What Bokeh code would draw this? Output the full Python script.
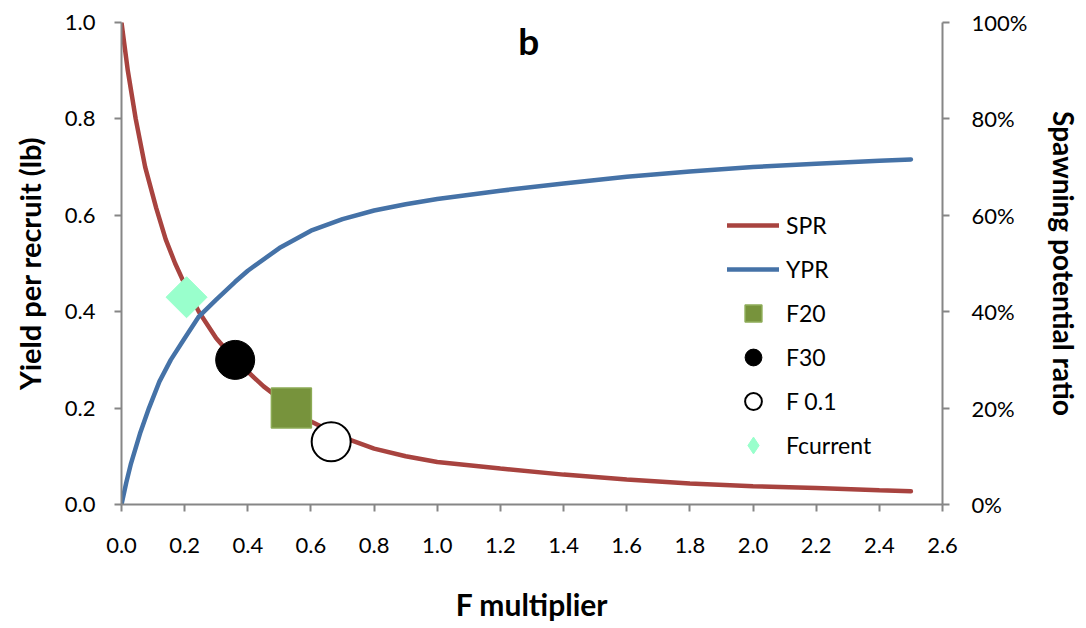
from bokeh.plotting import figure
from bokeh.models import (Range1d, LinearAxis, Legend, LegendItem, Label,
                          NumeralTickFormatter, FixedTicker)
from bokeh.embed import file_html
from bokeh.resources import INLINE
import math

# ---- data ----
f_spr = [0, 0.02, 0.045, 0.075, 0.11, 0.14, 0.17, 0.205, 0.245, 0.30, 0.36,
         0.45, 0.54, 0.60, 0.70, 0.80, 0.90, 1.0, 1.2, 1.4, 1.6, 1.8, 2.0,
         2.2, 2.4, 2.5]
spr = [1.0, 0.90, 0.80, 0.70, 0.615, 0.55, 0.50, 0.45, 0.40, 0.345, 0.30,
       0.245, 0.20, 0.172, 0.140, 0.116, 0.100, 0.088, 0.0745, 0.062, 0.052,
       0.0435, 0.038, 0.034, 0.0296, 0.0276]

f_ypr = [0, 0.015, 0.03, 0.06, 0.087, 0.12, 0.156, 0.20, 0.245, 0.30, 0.36,
         0.40, 0.50, 0.60, 0.70, 0.80, 0.90, 1.0, 1.2, 1.4, 1.6, 1.8, 2.0,
         2.2, 2.4, 2.5]
ypr = [0, 0.045, 0.085, 0.15, 0.20, 0.255, 0.30, 0.345, 0.39, 0.425, 0.462,
       0.485, 0.532, 0.568, 0.592, 0.610, 0.623, 0.634, 0.651, 0.666, 0.680,
       0.691, 0.700, 0.707, 0.713, 0.716]

f20_x, f20_y = [0.538], [0.20]
f30_x, f30_y = [0.36], [0.30]
f01_x, f01_y = [0.664], [0.13]
fcur_x, fcur_y = [0.206], [0.43]

x_ticks = [0, 0.2, 0.4, 0.6, 0.8, 1.0, 1.2, 1.4, 1.6, 1.8, 2.0, 2.2, 2.4, 2.6]
y_ticks = [0, 0.2, 0.4, 0.6, 0.8, 1.0]

RED = "#A8433F"
BLUE = "#4572A7"
GREEN = "#77933C"
AQUA = "#99FFCC"
AXIS = "#868686"
FONT = "Lato"

p = figure(width=1084, height=624, x_range=Range1d(0, 2.6), y_range=Range1d(0, 1),
           output_backend="svg", toolbar_location=None,
           min_border_left=121, min_border_right=142, min_border_top=22,
           min_border_bottom=119)
p.extra_y_ranges = {"spr": Range1d(0, 1)}
p.outline_line_color = None
p.grid.visible = False

r_spr = p.line(f_spr, spr, line_color=RED, line_width=4.5, line_cap="round",
               y_range_name="spr")
r_ypr = p.line(f_ypr, ypr, line_color=BLUE, line_width=4.5, line_cap="round")
r_f20 = p.scatter(f20_x, f20_y, marker="square", size=40, fill_color=GREEN,
                  line_color="#8CAB55", line_width=1.5, y_range_name="spr")
r_f30 = p.scatter(f30_x, f30_y, marker="circle", size=39, fill_color="black",
                  line_color="black", y_range_name="spr")
r_f01 = p.scatter(f01_x, f01_y, marker="circle", size=39, fill_color="white",
                  line_color="black", line_width=2, y_range_name="spr")
# diamond (used as legend swatch), covered by the rotated square below
r_fcur_key = p.scatter(fcur_x, fcur_y, marker="diamond", size=18,
                       fill_color=AQUA, line_color=AQUA, y_range_name="spr")
r_fcur = p.scatter(fcur_x, fcur_y, marker="square", size=29, angle=math.pi / 4,
                   fill_color=AQUA, line_color=AQUA, y_range_name="spr")

def style_axis(ax, fmt, ticks, standoff):
    ax.ticker = FixedTicker(ticks=ticks)
    ax.formatter = NumeralTickFormatter(format=fmt)
    ax.axis_line_color = AXIS
    ax.axis_line_width = 2
    ax.major_tick_line_color = AXIS
    ax.major_tick_line_width = 2
    ax.major_tick_out = 7
    ax.major_tick_in = 0
    ax.minor_tick_line_color = None
    ax.major_label_text_font = FONT
    ax.major_label_text_font_size = "22px"
    ax.major_label_text_color = "black"
    ax.major_label_standoff = standoff
    ax.axis_label_text_font = FONT
    ax.axis_label_text_font_style = "bold"
    ax.axis_label_text_font_size = "28px"
    ax.axis_label_text_color = "black"

style_axis(p.xaxis[0], "0.0", x_ticks, 26)
p.xaxis[0].axis_label = "F multiplier"
p.xaxis[0].axis_label_text_font_size = "30px"
p.xaxis[0].axis_label_standoff = 30

style_axis(p.yaxis[0], "0.0", y_ticks, 19)
p.yaxis[0].axis_label = "Yield per recruit (lb)"
p.yaxis[0].axis_label_text_font_size = "29px"
p.yaxis[0].axis_label_standoff = 15

rax = LinearAxis(y_range_name="spr")
style_axis(rax, "0%", y_ticks, 22)
rax.axis_label = "Spawning potential ratio"
rax.axis_label_standoff = 17
p.add_layout(rax, "right")

legend = Legend(items=[
    LegendItem(label="SPR", renderers=[r_spr]),
    LegendItem(label="YPR", renderers=[r_ypr]),
    LegendItem(label="F20", renderers=[r_f20]),
    LegendItem(label="F30", renderers=[r_f30]),
    LegendItem(label="F 0.1", renderers=[r_f01]),
    LegendItem(label="Fcurrent", renderers=[r_fcur_key]),
], location=(606, 38))
legend.glyph_width = 52
legend.glyph_height = 42
legend.spacing = 2
legend.padding = 0
legend.margin = 0
legend.label_standoff = 7
legend.label_text_font = FONT
legend.label_text_font_size = "23px"
legend.label_text_color = "black"
legend.border_line_color = None
legend.background_fill_alpha = 0
p.add_layout(legend, "center")

p.add_layout(Label(x=1.29, y=0.962, text="b", text_font=FONT,
                   text_font_style="bold", text_font_size="37px",
                   text_align="center", text_baseline="alphabetic",
                   text_color="black"))

open("out.html", "w").write(file_html(p, INLINE))
